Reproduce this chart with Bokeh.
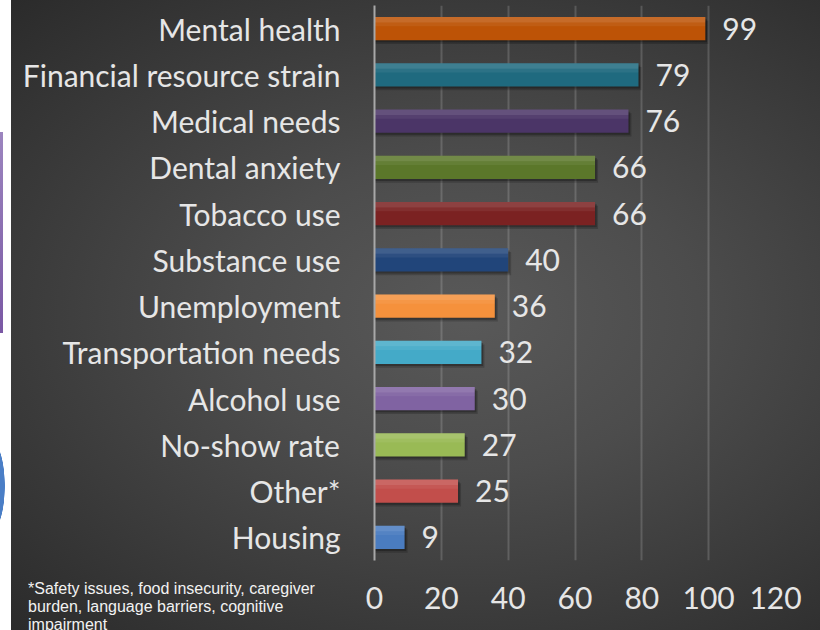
from bokeh.plotting import figure
from bokeh.models import FactorRange, FixedTicker, ColumnDataSource, Div
from bokeh.layouts import column
from bokeh.transform import dodge
from bokeh.core.properties import value
from bokeh.embed import file_html
from bokeh.resources import INLINE

categories = ["Mental health", "Financial resource strain", "Medical needs", "Dental anxiety",
              "Tobacco use", "Substance use", "Unemployment", "Transportation needs",
              "Alcohol use", "No-show rate", "Other*", "Housing"]
values = [99, 79, 76, 66, 66, 40, 36, 32, 30, 27, 25, 9]
bar_colors = ["#BD5306", "#1F6A7F", "#4B3567", "#5B772A", "#7B2222", "#21457A",
              "#F5913C", "#44AAC8", "#8063A2", "#99BA55", "#C24E4B", "#4A7CC0"]
x_ticks = [0, 20, 40, 60, 80, 100, 120]
footnote_lines = ["*Safety issues, food insecurity, caregiver",
                  "burden, language barriers, cognitive",
                  "impairment"]

FONT = "Lato"
TXT = "#e6e6e6"

bg = ", ".join([
    "linear-gradient(#9c85bf, #7a58a4) 0px 132px / 3px 201px no-repeat",
    "radial-gradient(closest-side, #4a7ec6 96%, rgba(74,126,198,0) 100%) -20px 442px / 25px 88px no-repeat",
    "linear-gradient(to right, #ffffff 0px, #ffffff 11px, rgba(255,255,255,0) 11px) 0 0 / 100% 100% no-repeat",
    "radial-gradient(ellipse farthest-corner at 57% 50%, #595959 0%, #4c4c4c 35%, #2a2a2a 100%)",
])

src = ColumnDataSource(dict(cat=categories, val=values, color=bar_colors,
                            label=[str(v) for v in values]))

p = figure(width=820, height=630, y_range=FactorRange(factors=categories[::-1]),
           x_range=(0, 120), output_backend="svg", toolbar_location=None,
           min_border_left=374, min_border_right=45, min_border_top=5, min_border_bottom=70,
           styles={"background": bg})
p.background_fill_alpha = 0
p.border_fill_alpha = 0
p.outline_line_color = None

# shadows
p.hbar(y=dodge("cat", -0.08, range=p.y_range), left=0, right=dodge("val", 0.9), height=0.5,
       fill_color="black", fill_alpha=0.18, line_color=None, source=src)
p.hbar(y=dodge("cat", -0.045, range=p.y_range), left=0, right=dodge("val", 0.5), height=0.5,
       fill_color="black", fill_alpha=0.25, line_color=None, source=src)
# bars
p.hbar(y="cat", left=0, right="val", height=0.5, fill_color="color", line_color=None, source=src)
# gloss
p.hbar(y=dodge("cat", 0.19, range=p.y_range), left=0, right="val", height=0.12,
       fill_color="white", fill_alpha=0.14, line_color=None, source=src)
p.hbar(y=dodge("cat", 0.09, range=p.y_range), left=0, right="val", height=0.08,
       fill_color="white", fill_alpha=0.06, line_color=None, source=src)

p.text(x="val", y="cat", text="label", x_offset=17, text_baseline="middle", text_align="left",
       text_font=value(FONT), text_font_size="30px", text_color=TXT, source=src)

p.xgrid.ticker = FixedTicker(ticks=x_ticks)
p.xgrid.grid_line_color = "white"
p.xgrid.grid_line_alpha = 0.16
p.xgrid.grid_line_width = 2
p.ygrid.grid_line_color = None

p.xaxis.ticker = FixedTicker(ticks=x_ticks)
p.xaxis.axis_line_color = None
p.xaxis.major_tick_line_color = None
p.xaxis.minor_tick_line_color = None
p.xaxis.major_label_standoff = 20
p.xaxis.major_label_text_font = FONT
p.xaxis.major_label_text_font_size = "30px"
p.xaxis.major_label_text_color = TXT

p.yaxis.axis_line_color = "#a8a8a8"
p.yaxis.axis_line_width = 2
p.yaxis.major_tick_line_color = None
p.yaxis.minor_tick_line_color = None
p.yaxis.major_label_standoff = 28
p.yaxis.major_label_text_font = FONT
p.yaxis.major_label_text_font_size = "30px"
p.yaxis.major_label_text_color = TXT

note = Div(text="<br>".join(footnote_lines), width=320, height=50,
           styles={"position": "absolute", "left": "28px", "top": "580px",
                   "color": "#f2f2f2", "font-family": "'Liberation Sans', Arial, sans-serif",
                   "font-size": "16px", "line-height": "18px", "overflow": "hidden",
                   "white-space": "nowrap", "z-index": "10", "margin": "0", "padding": "0"})

layout = column(p, note, spacing=0, styles={"position": "relative"})
open("out.html", "w").write(file_html(layout, INLINE))
